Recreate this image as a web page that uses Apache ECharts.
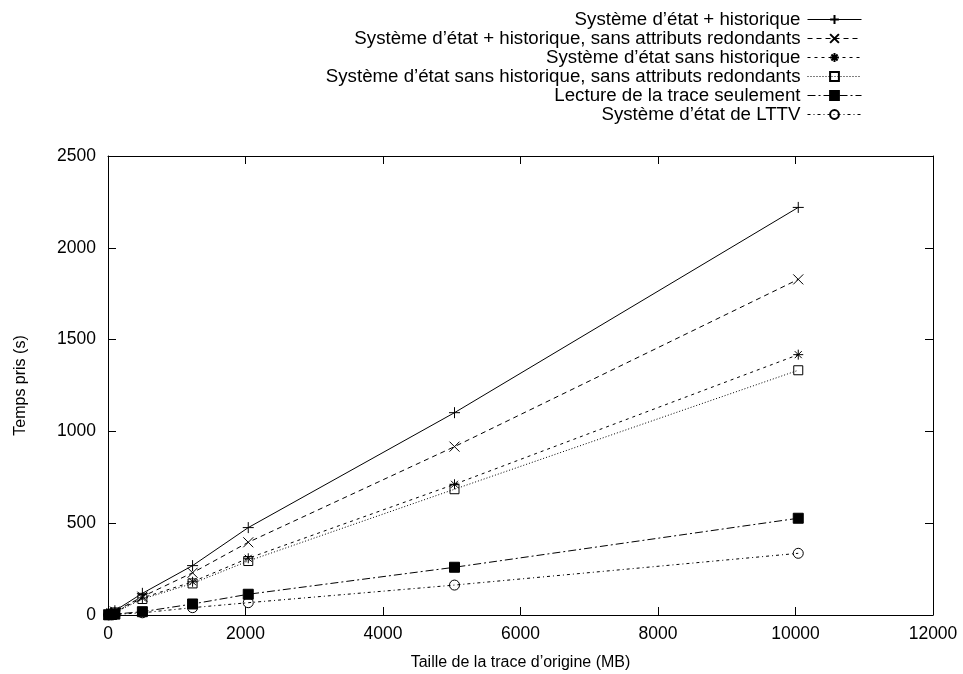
<!DOCTYPE html>
<html>
<head>
<meta charset="utf-8">
<script src="https://cdn.jsdelivr.net/npm/echarts@6/dist/echarts.min.js"></script>
<style>html,body{margin:0;padding:0;background:#fff;}#c{width:963px;height:674px;}</style>
</head>
<body>
<div id="c"></div>
<script>
var xValues = [10, 50, 100, 500, 1230, 2040, 5040, 10040];
var seriesNames = [
  'Système d’état + historique',
  'Système d’état + historique, sans attributs redondants',
  'Système d’état sans historique',
  'Système d’état sans historique, sans attributs redondants',
  'Lecture de la trace seulement',
  'Système d’état de LTTV'
];
var s1 = [2, 11, 23, 118, 269, 476, 1102, 2220];
var s2 = [2, 9, 19, 100, 230, 396, 917, 1828];
var s3 = [2, 7, 15, 93, 181, 309, 712, 1418];
var s4 = [1, 7, 14, 87, 172, 294, 685, 1333];
var s5 = [1, 3, 5, 18, 60, 113, 260, 527];
var s6 = [1, 2, 3, 12, 40, 67, 163, 336];
var xTicks = [0, 2000, 4000, 6000, 8000, 10000, 12000];
var yTicks = [0, 500, 1000, 1500, 2000, 2500];

var allValues = [s1, s2, s3, s4, s5, s6];
var FONT = '"Liberation Sans", Arial, Helvetica, sans-serif';
var styles = [
  {symbol: 'path://M5,0L5,10M0,5L10,5', size: 11, fill: 'rgba(0,0,0,0)', dash: 'solid'},
  {symbol: 'path://M0,0L10,10M10,0L0,10', size: 10, fill: 'rgba(0,0,0,0)', dash: [5, 4]},
  {symbol: 'path://M5,0L5,10M0,5L10,5M1.5,1.5L8.5,8.5M8.5,1.5L1.5,8.5', size: 10, fill: 'rgba(0,0,0,0)', dash: [3, 4]},
  {symbol: 'rect', size: 9, fill: 'rgba(0,0,0,0)', dash: [1, 2]},
  {symbol: 'rect', size: 10, fill: '#000', dash: [8, 3, 2, 3]},
  {symbol: 'circle', size: 10, fill: 'rgba(0,0,0,0)', dash: [3, 3, 1, 3]}
];

function pairs(vals) {
  return xValues.map(function (x, i) { return [x, vals[i]]; });
}

var series = allValues.map(function (vals, i) {
  var st = styles[i];
  return {
    name: seriesNames[i],
    type: 'line',
    data: pairs(vals),
    symbol: st.symbol,
    symbolSize: st.size,
    showAllSymbol: true,
    animation: false,
    itemStyle: {color: st.fill, borderColor: '#000', borderWidth: 1},
    lineStyle: {color: '#000', width: 1, type: st.dash},
    emphasis: {disabled: true}
  };
});

var legendCenters = [19, 38, 57, 76, 95, 114];
var legends = seriesNames.map(function (n, i) {
  return {
    data: [n],
    orient: 'vertical',
    right: 101,
    top: legendCenters[i] - 9,
    align: 'right',
    itemWidth: 54,
    itemHeight: 11,
    itemGap: 0,
    padding: 0,
    selectedMode: false,
    lineStyle: {width: 1},
    textStyle: {fontFamily: FONT, fontSize: 18.7, color: '#000', lineHeight: 18, padding: [0, 2, 0, 0]}
  };
});

function plain(v) { return String(v); }

var axisCommon = {
  type: 'value',
  axisLine: {show: true, onZero: false, lineStyle: {color: '#000', width: 1}},
  axisTick: {show: true, inside: true, length: 8, lineStyle: {color: '#000', width: 1}},
  splitLine: {show: false}
};

var option = {
  backgroundColor: '#fff',
  animation: false,
  legend: legends,
  grid: {left: 108, right: 30, top: 156, bottom: 59, containLabel: false, outerBoundsMode: 'none'},
  xAxis: [
    Object.assign({}, axisCommon, {
      position: 'bottom', min: 0, max: 12000, interval: 2000,
      name: 'Taille de la trace d’origine (MB)', nameLocation: 'middle', nameGap: 40,
      nameTextStyle: {fontFamily: FONT, fontSize: 16, color: '#000'},
      axisLabel: {fontFamily: FONT, fontSize: 17.5, color: '#000', margin: 10,
        formatter: plain, customValues: xTicks}
    }),
    Object.assign({}, axisCommon, {
      position: 'top', min: 0, max: 12000, interval: 2000,
      axisLabel: {show: false}
    })
  ],
  yAxis: [
    Object.assign({}, axisCommon, {
      position: 'left', min: 0, max: 2500, interval: 500,
      name: 'Temps pris (s)', nameLocation: 'middle', nameGap: 79, nameRotate: 90,
      nameTextStyle: {fontFamily: FONT, fontSize: 16, color: '#000'},
      axisLabel: {fontFamily: FONT, fontSize: 17.5, color: '#000', margin: 12,
        formatter: plain, customValues: yTicks}
    }),
    Object.assign({}, axisCommon, {
      position: 'right', min: 0, max: 2500, interval: 500,
      axisLabel: {show: false}
    })
  ],
  series: series
};

var chart = echarts.init(document.getElementById('c'), null, {renderer: 'canvas'});
chart.setOption(option);
</script>
</body>
</html>
